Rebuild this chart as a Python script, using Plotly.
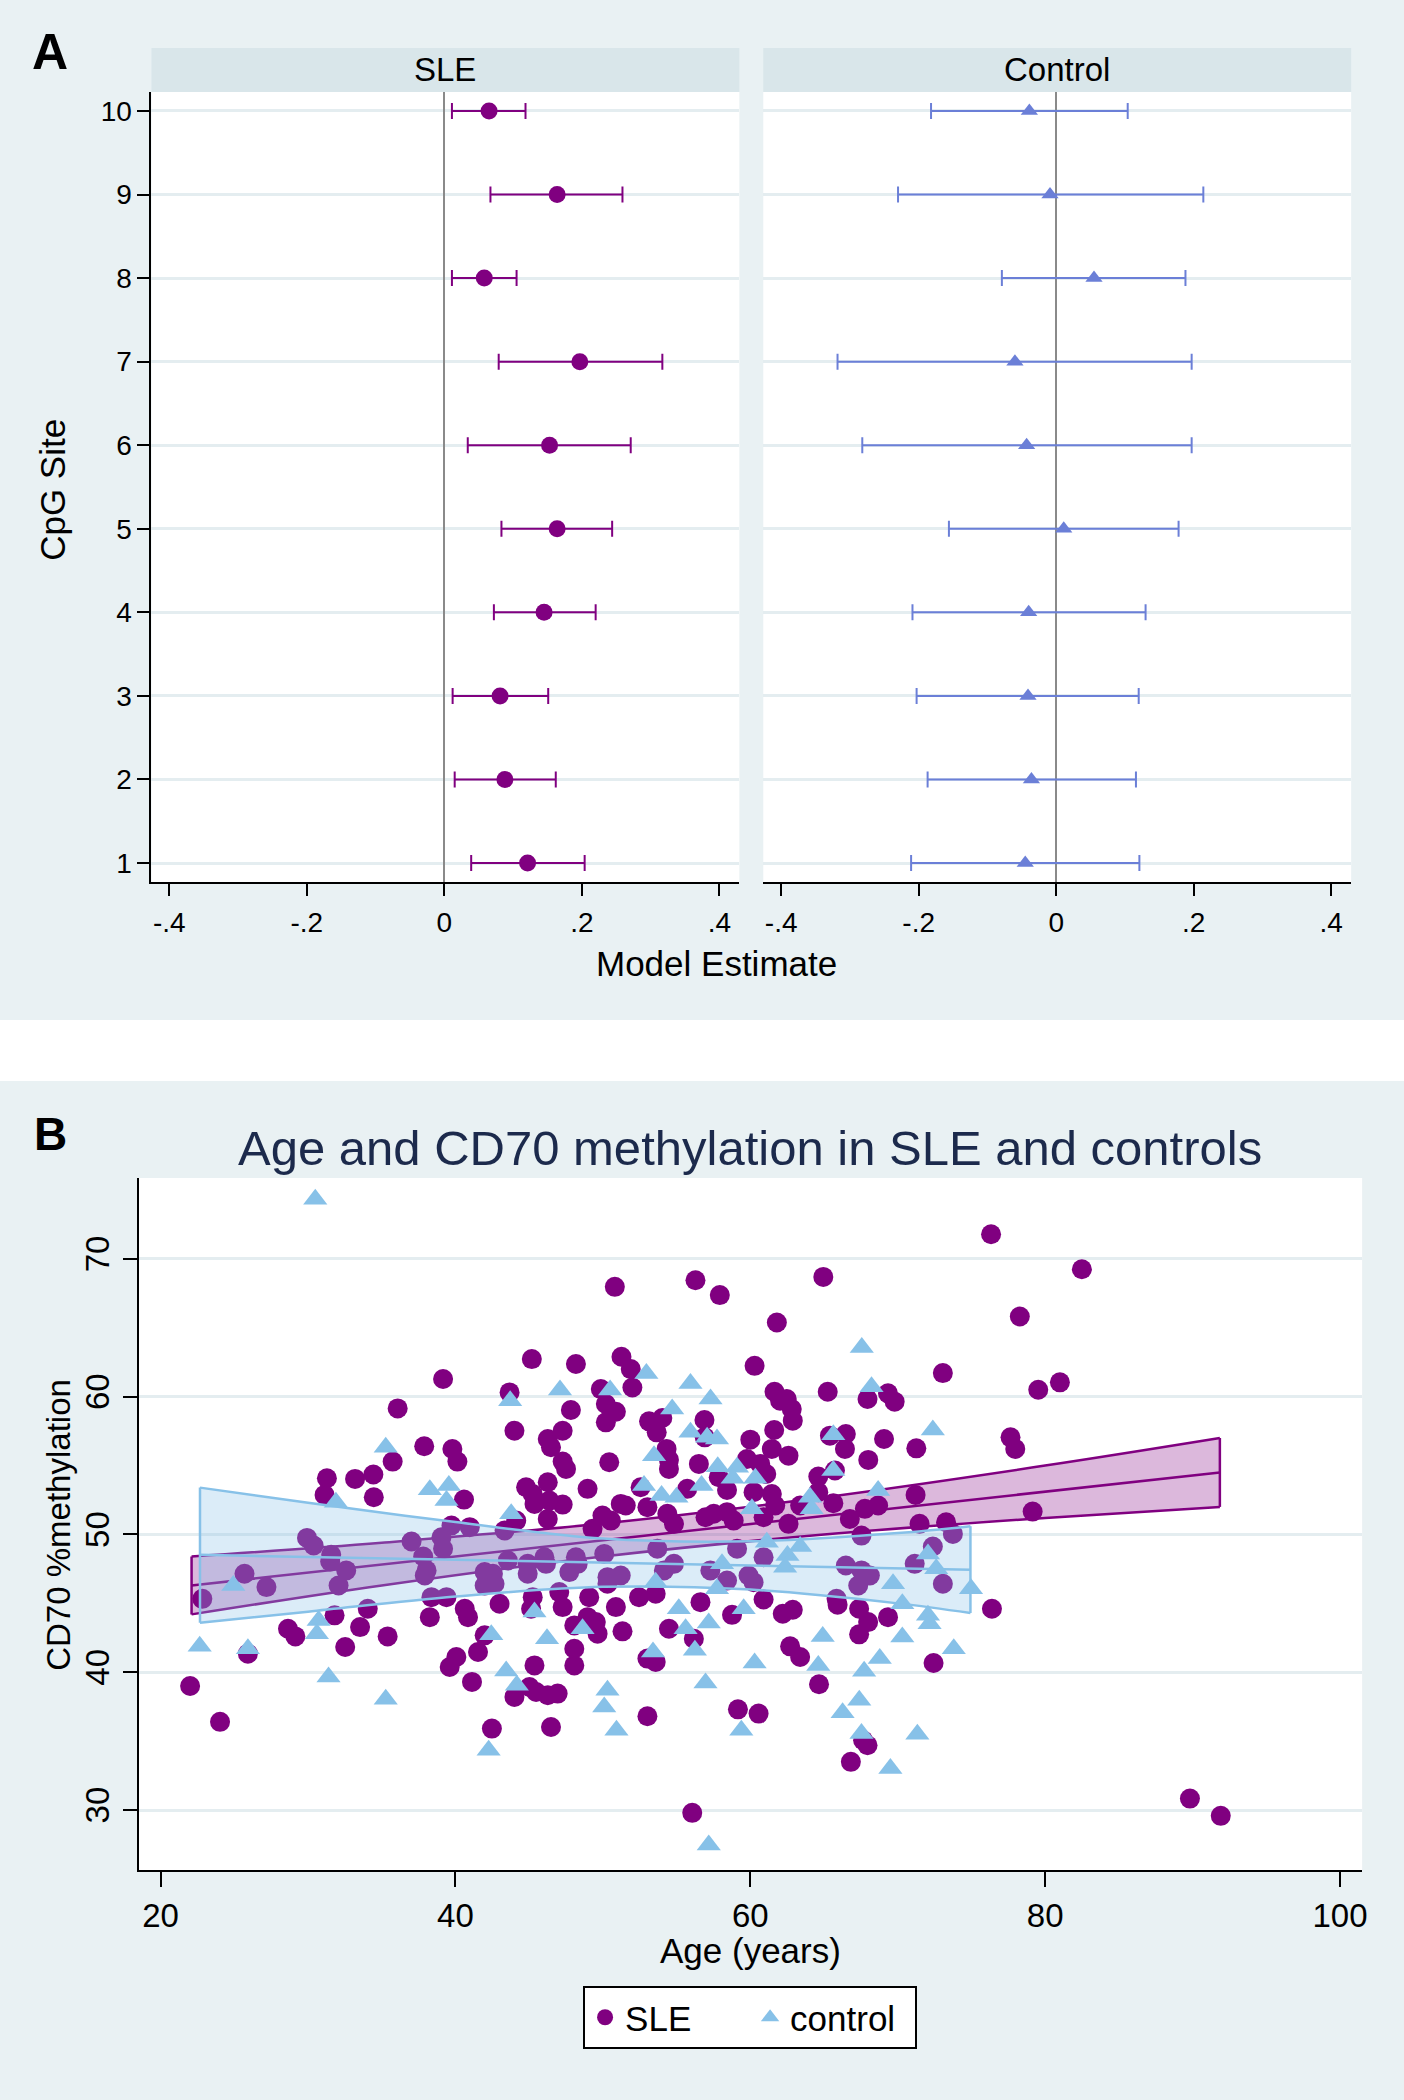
import numpy as np
import plotly.graph_objects as go

W, H = 1404, 2100
FONT = "Liberation Sans, Arial, sans-serif"
BG = "#e9f1f3"
STRIP = "#d9e6ea"
GRID = "#e4edf0"
SLE_C = "#800080"
CTRL_A = "#6b7fd7"
CTRL_C = "#87c1e8"

# ---- panel A: model estimates per CpG site ----
sites = [1, 2, 3, 4, 5, 6, 7, 8, 9, 10]
sle_est = [0.121, 0.088, 0.081, 0.145, 0.164, 0.153, 0.197, 0.058, 0.164, 0.065]
sle_lo = [0.039, 0.015, 0.012, 0.072, 0.083, 0.034, 0.079, 0.011, 0.067, 0.011]
sle_hi = [0.204, 0.162, 0.151, 0.220, 0.244, 0.271, 0.317, 0.105, 0.259, 0.118]
ctrl_est = [-0.045, -0.036, -0.041, -0.040, 0.011, -0.043, -0.060, 0.055, -0.009, -0.039]
ctrl_lo = [-0.211, -0.187, -0.203, -0.209, -0.156, -0.282, -0.318, -0.079, -0.230, -0.182]
ctrl_hi = [0.121, 0.116, 0.120, 0.130, 0.178, 0.197, 0.197, 0.188, 0.214, 0.104]
est_ticks = [-0.4, -0.2, 0, 0.2, 0.4]
est_labels = ["-.4", "-.2", "0", ".2", ".4"]

# ---- panel B: age vs CD70 methylation ----
sle_age = [45.18, 48.17, 39.16, 43.67, 36.08, 47.83, 44.0, 47.27, 46.26, 46.48, 37.88, 39.79, 40.13, 35.74,
           47.27, 47.5, 31.28, 33.19, 34.43, 31.12, 34.46, 40.58, 44.79, 46.26, 45.24, 45.36, 46.37, 47.27,
           46.26, 44.12, 39.73, 40.97,
           22.83, 22.0, 24.03, 25.92, 25.69, 27.18, 29.93, 30.38, 31.57, 31.5, 32.59, 32.07, 31.8, 34.05,
           33.53, 35.4, 32.52, 28.64, 29.14, 37.02, 37.81, 39.05, 39.16, 38.04, 37.92, 38.37, 39.39, 38.26,
           40.63, 40.85, 41.98, 41.53, 40.06, 39.61, 41.12, 41.98, 42.54, 41.98, 42.65, 42.99, 43.55, 44.9,
           44.9, 46.03, 46.14, 47.72, 48.17, 45.24, 45.13, 47.04, 47.27, 48.06, 45.36, 45.02, 44.0, 45.47,
           46.26, 46.93, 42.47, 46.48, 48.06, 48.06, 43.33,
           76.33, 50.81, 56.28, 57.93, 64.95, 61.8, 51.26, 51.89, 52.0, 49.86, 50.2, 50.88, 50.2, 60.29,
           65.25, 61.64, 62.02, 62.47, 62.81, 62.88, 67.95, 69.34, 69.79, 73.06, 53.13, 54.03, 53.65, 56.89,
           56.91, 54.32, 54.48, 54.48, 50.43, 60.0, 61.62, 61.46, 62.59, 59.77, 60.67, 61.08, 56.51, 57.86,
           58.42, 65.4, 66.48, 66.42, 69.07, 68.0, 71.26, 64.61, 65.74, 64.61, 48.96, 52.56, 53.02, 55.72,
           51.21, 49.97, 50.54, 51.55, 54.37, 54.82, 56.96, 57.52, 58.42, 58.87, 60.9, 61.69, 61.46, 60.22,
           63.38, 62.59, 65.63, 66.75, 67.77, 68.67, 71.21, 71.48, 73.28, 49.3,
           56.06, 53.02, 59.16, 60.56, 64.66, 66.82, 67.95, 67.65, 72.43, 76.39, 49.07, 50.88, 51.33, 49.52,
           48.96, 49.64, 53.02, 53.58, 54.48, 56.17, 56.62, 58.76, 60.9, 62.2, 62.88, 62.7, 63.38, 65.92,
           67.38, 67.99, 67.38, 69.34, 52.45, 53.58, 50.31, 51.21,
           48.29, 50.09, 53.69, 54.82, 54.14, 57.29, 58.42, 59.88, 60.22, 59.1, 60.9, 65.85, 66.48, 67.54,
           68.11, 67.32, 71.15, 72.38, 73.06, 73.74, 67.54, 50.31,
           82.49, 78.28, 79.53, 81.0, 77.65, 77.97, 79.15, 89.82, 91.91]
sle_meth = [62.73, 62.37, 61.28, 60.31, 59.15, 59.03, 57.53, 57.53, 56.93, 56.33, 56.4, 56.2, 55.29, 55.29,
            55.29, 54.76, 54.08, 54.03, 54.35, 52.87, 52.7, 52.53, 53.43, 53.79, 52.94, 52.22, 52.46, 52.17,
            51.13, 51.01, 50.65, 50.53,
            45.33, 39.0, 36.4, 41.35, 47.15, 46.18, 49.75, 49.2, 48.52, 48.04, 47.39, 46.3, 44.13, 44.61,
            43.28, 42.6, 41.83, 43.16, 42.6, 49.49, 48.4, 49.8, 48.96, 47.39, 47.02, 45.45, 45.45, 44.0,
            44.61, 44.0, 42.68, 41.47, 41.11, 40.38, 39.3, 47.27, 47.15, 46.3, 46.42, 44.97, 48.11, 47.87,
            47.15, 48.35, 47.87, 47.27, 48.35, 45.45, 44.61, 45.82, 44.73, 43.4, 40.5, 38.93, 38.21, 38.57,
            38.33, 38.45, 35.91, 36.03, 41.71, 40.5, 50.29,
            71.79, 67.97, 68.45, 67.37, 68.69, 65.38, 62.9, 62.0, 60.67, 60.55, 59.47, 58.91, 58.14, 62.24,
            60.36, 60.36, 59.71, 59.83, 59.1, 58.26, 59.83, 60.24, 59.64, 61.71, 58.21, 58.45, 57.41, 58.31,
            57.05, 56.21, 55.41, 54.76, 55.24, 56.88, 57.58, 56.21, 55.72, 55.48, 55.12, 54.39, 55.12, 54.15,
            53.23, 57.17, 57.29, 56.21, 56.93, 55.41, 56.25, 54.2, 54.64, 53.07, 53.31, 53.43, 51.98, 53.31,
            52.22, 51.37, 51.01, 52.1, 51.5, 50.77, 51.25, 51.5, 51.62, 51.01, 51.25, 52.1, 52.94, 53.07,
            52.1, 50.77, 52.27, 51.13, 51.86, 52.1, 52.87, 50.77, 50.89, 50.41,
            29.8, 36.81, 37.31, 37.0, 39.13, 33.5, 34.7, 35.07, 40.67, 44.61, 45.45, 44.73, 42.97, 43.64,
            44.0, 42.8, 40.99, 40.75, 43.16, 42.43, 45.09, 44.17, 45.28, 44.25, 44.54, 41.88, 41.11, 44.9,
            44.61, 43.64, 42.75, 44.0, 45.45, 45.7, 46.42, 47.02,
            47.87, 48.59, 48.96, 47.87, 47.39, 47.39, 46.66, 47.02, 46.54, 48.96, 48.35, 45.33, 47.75, 47.39,
            47.02, 46.3, 47.87, 49.13, 46.42, 50.04, 49.92, 46.9,
            69.25, 65.82, 60.5, 61.04, 57.05, 56.21, 51.66, 30.83, 29.58]

ctrl_age = [30.49, 35.27, 47.09, 43.71, 38.26, 39.55, 39.39, 31.89, 43.78,
            24.93, 22.65, 25.92, 30.72, 30.6, 31.39, 35.27, 42.43, 43.44, 44.16, 45.36, 46.21, 42.25, 48.62,
            67.56, 52.95, 55.94, 50.49, 57.3, 54.7, 68.22, 55.94, 57.07, 57.74, 65.63, 72.38, 53.47, 57.79,
            59.1, 58.8, 60.34, 65.63, 56.69, 52.79, 53.98, 54.99, 64.05, 60.11, 64.16, 68.67,
            61.12, 63.38, 62.52, 62.36, 58.08, 53.58, 57.74, 55.15, 59.55, 55.61, 57.18, 56.24, 53.4, 60.29,
            56.96, 50.31, 50.09, 50.92, 59.39, 57.18, 64.91, 64.61, 67.72, 68.78, 67.39, 66.26, 67.54, 71.33,
            69.5, 70.31, 73.8, 69.68, 70.31, 72.05, 72.61, 72.05, 72.16, 74.97]
ctrl_meth = [74.32, 56.33, 60.48, 59.71, 53.24, 53.55, 52.46, 52.34, 51.5,
             46.3, 41.88, 41.71, 43.76, 42.8, 39.66, 38.04, 42.72, 40.09, 39.05, 44.37, 42.43, 34.34, 43.16,
             63.57, 61.69, 60.96, 60.48, 59.83, 59.1, 60.72, 57.41, 57.05, 56.93, 57.24, 57.58, 55.72, 54.92,
             54.88, 54.08, 54.08, 54.64, 53.55, 53.55, 52.82, 52.7, 52.7, 51.86, 51.86, 53.19,
             49.44, 49.13, 48.47, 47.63, 47.87, 46.54, 46.06, 44.61, 44.61, 43.16, 43.57, 41.59, 41.47, 40.67,
             39.22, 38.69, 37.48, 35.79, 35.79, 27.46, 42.6, 40.5, 40.07, 40.99, 37.97, 37.07, 35.55, 35.5,
             33.02, 42.56, 41.71, 46.42, 44.97, 48.59, 47.51, 44.13, 43.52, 46.06]

# fitted lines and 95% CI bands
sle_fit_age = [22.1, 91.85]
sle_fit = [46.3, 54.5]
sle_band_age = [22.1, 35, 50, 65, 80, 91.85]
sle_band_hi = [48.4, 49.4, 50.8, 52.7, 55.0, 57.0]
sle_band_lo = [44.2, 46.3, 48.4, 50.0, 51.2, 52.0]
ctrl_fit_age = [22.67, 74.93]
ctrl_fit = [48.52, 47.44]
ctrl_band_age = [22.67, 30, 40, 50, 60, 70, 74.93]
ctrl_band_hi = [53.4, 52.3, 50.9, 49.7, 49.5, 50.1, 50.6]
ctrl_band_lo = [43.6, 44.4, 45.5, 46.2, 46.0, 45.0, 44.3]


def px(x):
    return x / W


def py(y):
    return 1 - y / H


def label(text, x, y, size, angle=0, color="black", anchor="center"):
    return dict(text=text, x=px(x), y=py(y), xref="paper", yref="paper", xanchor=anchor,
                yanchor="middle", textangle=angle, showarrow=False,
                font=dict(family=FONT, size=size, color=color))


fig = go.Figure()

# panel A
fig.add_trace(go.Scatter(
    x=sle_est, y=sites, mode="markers", xaxis="x", yaxis="y", showlegend=False,
    marker=dict(color=SLE_C, size=17, symbol="circle", line=dict(width=0)),
    error_x=dict(type="data", symmetric=False,
                 array=np.array(sle_hi) - np.array(sle_est),
                 arrayminus=np.array(sle_est) - np.array(sle_lo),
                 color=SLE_C, thickness=2, width=8)))
fig.add_trace(go.Scatter(
    x=ctrl_est, y=sites, mode="markers", xaxis="x2", yaxis="y2", showlegend=False,
    marker=dict(color=CTRL_A, size=15, symbol="triangle-up", line=dict(width=0)),
    error_x=dict(type="data", symmetric=False,
                 array=np.array(ctrl_hi) - np.array(ctrl_est),
                 arrayminus=np.array(ctrl_est) - np.array(ctrl_lo),
                 color=CTRL_A, thickness=2, width=8)))

# panel B scatter + bands
fig.add_trace(go.Scatter(
    x=sle_age, y=sle_meth, mode="markers", name="SLE", xaxis="x3", yaxis="y3",
    marker=dict(color=SLE_C, size=20, symbol="circle", line=dict(width=0))))


def add_band(ages, lo, hi, fit_age, fit, color, fill):
    fig.add_trace(go.Scatter(x=ages, y=lo, mode="lines", xaxis="x3", yaxis="y3",
                             line=dict(color=color, width=2.5, shape="spline"),
                             showlegend=False, hoverinfo="skip"))
    fig.add_trace(go.Scatter(x=ages, y=hi, mode="lines", xaxis="x3", yaxis="y3",
                             fill="tonexty", fillcolor=fill,
                             line=dict(color=color, width=2.5, shape="spline"),
                             showlegend=False, hoverinfo="skip"))
    fig.add_trace(go.Scatter(x=[ages[0], ages[0], None, ages[-1], ages[-1]],
                             y=[lo[0], hi[0], None, lo[-1], hi[-1]],
                             mode="lines", xaxis="x3", yaxis="y3",
                             line=dict(color=color, width=2.5),
                             showlegend=False, hoverinfo="skip"))
    fig.add_trace(go.Scatter(x=fit_age, y=fit, mode="lines", xaxis="x3", yaxis="y3",
                             line=dict(color=color, width=2.5),
                             showlegend=False, hoverinfo="skip"))


add_band(sle_band_age, sle_band_lo, sle_band_hi, sle_fit_age, sle_fit, SLE_C, "rgba(128,0,128,0.28)")
add_band(ctrl_band_age, ctrl_band_lo, ctrl_band_hi, ctrl_fit_age, ctrl_fit, CTRL_C, "rgba(135,193,232,0.30)")

fig.add_trace(go.Scatter(
    x=ctrl_age, y=ctrl_meth, mode="markers", name="control", xaxis="x3", yaxis="y3",
    marker=dict(color=CTRL_C, size=21, symbol="triangle-up", line=dict(width=0))))

tickfont_a = dict(family=FONT, size=28, color="black")
tickfont_b = dict(family=FONT, size=33, color="black")
xa_common = dict(range=[-0.426, 0.429], tickvals=est_ticks, ticktext=est_labels,
                 showgrid=False, zeroline=True, zerolinecolor="#8a8a8a", zerolinewidth=2,
                 showline=True, linecolor="black", linewidth=2, ticks="outside",
                 ticklen=12, tickwidth=2, tickcolor="black", tickfont=tickfont_a,
                 ticklabelstandoff=2)
ya_common = dict(range=[0.773, 10.227], domain=[py(882), py(92)], tickvals=sites,
                 showgrid=True, gridcolor=GRID, gridwidth=2.5, zeroline=False)

fig.update_layout(
    width=W, height=H, margin=dict(l=0, r=0, t=0, b=0),
    paper_bgcolor=BG, plot_bgcolor="white",
    font=dict(family=FONT, color="black"),
    xaxis=dict(domain=[px(152), px(742)], anchor="y", **xa_common),
    xaxis2=dict(domain=[px(766), px(1356)], anchor="y2", **xa_common),
    yaxis=dict(anchor="x", showline=True, linecolor="black", linewidth=2, ticks="outside",
               ticklen=12, tickwidth=2, tickcolor="black", tickfont=tickfont_a,
               ticklabelstandoff=0, **ya_common),
    yaxis2=dict(anchor="x2", showline=False, showticklabels=False, ticks="", **ya_common),
    xaxis3=dict(domain=[px(139), px(1367)], anchor="y3", range=[18.5, 101.5],
                tickvals=[20, 40, 60, 80, 100], showgrid=False, zeroline=False,
                showline=True, linecolor="black", linewidth=2, ticks="outside",
                ticklen=15, tickwidth=2, tickcolor="black", tickfont=tickfont_b,
                ticklabelstandoff=0),
    yaxis3=dict(domain=[py(1870), py(1178)], anchor="x3", range=[25.65, 75.87],
                tickvals=[30, 40, 50, 60, 70], tickangle=-90, showgrid=True, gridcolor=GRID,
                gridwidth=2.5, zeroline=False, showline=True, linecolor="black", linewidth=2,
                ticks="outside", ticklen=14, tickwidth=2, tickcolor="black", tickfont=tickfont_b,
                ticklabelstandoff=0),
    legend=dict(orientation="h", x=px(752.75), xanchor="center", y=py(1986), yanchor="top",
                traceorder="normal", entrywidth=120,
                bgcolor="white", bordercolor="black", borderwidth=2,
                font=dict(family=FONT, size=35, color="black")),
    shapes=[
        dict(type="rect", xref="paper", yref="paper", x0=-0.01, x1=1.01, y0=py(1081), y1=py(1020),
             fillcolor="white", line=dict(width=0), layer="below"),
        dict(type="rect", xref="paper", yref="paper", x0=px(152), x1=px(742), y0=py(92), y1=py(48),
             fillcolor=STRIP, line=dict(width=0), layer="below"),
        dict(type="rect", xref="paper", yref="paper", x0=px(766), x1=px(1356), y0=py(92), y1=py(48),
             fillcolor=STRIP, line=dict(width=0), layer="below"),
    ],
    annotations=[
        label("<b>A</b>", 30, 52, 50, anchor="left"),
        label("<b>B</b>", 32, 1134, 46, anchor="left"),
        label("SLE", 447, 70, 33),
        label("Control", 1061, 70, 33),
        label("Model Estimate", 719, 963, 35),
        label("CpG Site", 52, 490, 35, angle=-90),
        label("Age and CD70 methylation in SLE and controls", 753, 1148, 49, color="#1c2a4c"),
        label("Age (years)", 753, 1950, 35),
        label("CD70 %methylation", 58, 1525, 33, angle=-90),
    ],
)

fig.write_html("out.html", config={"displayModeBar": False},
               post_script="document.body.style.margin='0px';")
